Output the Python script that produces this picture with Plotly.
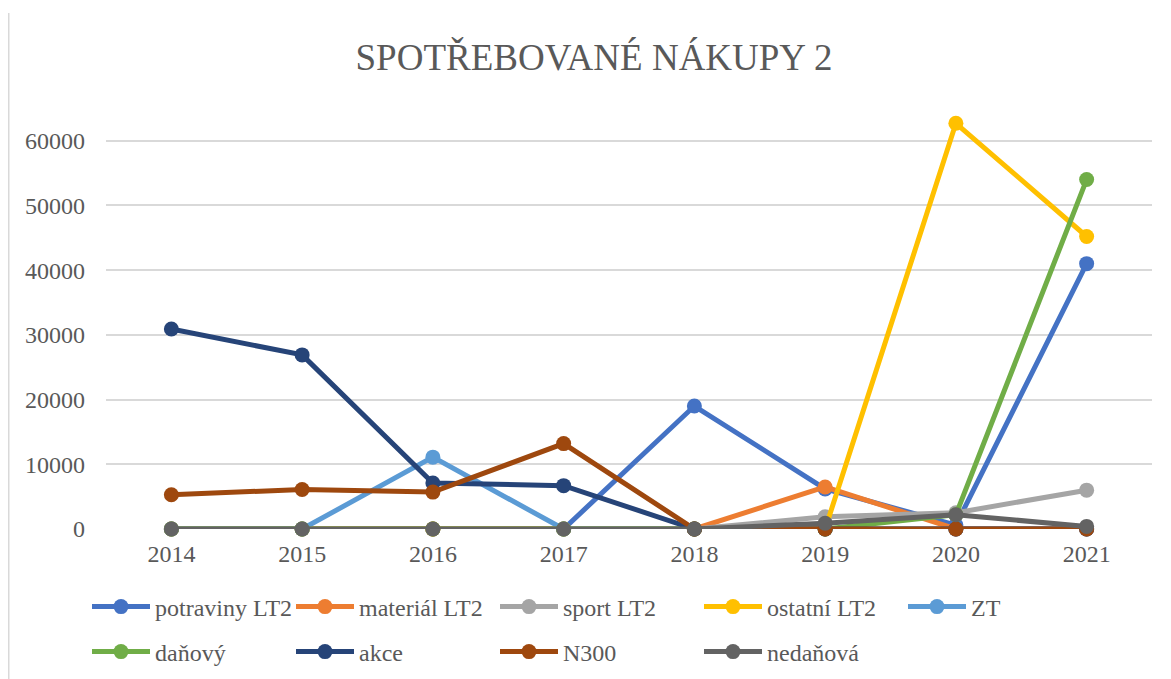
import plotly.graph_objects as go

years = ["2014", "2015", "2016", "2017", "2018", "2019", "2020", "2021"]

potraviny_lt2 = [0, 0, 0, 0, 19000, 6200, 600, 41000]
material_lt2 = [0, 0, 0, 0, 0, 6500, 0, 0]
sport_lt2 = [0, 0, 0, 0, 0, 1900, 2500, 6000]
ostatni_lt2 = [0, 0, 0, 0, 0, 0, 62700, 45200]
zt = [0, 0, 11100, 0, 0, 0, 0, 0]
danovy = [0, 0, 0, 0, 0, 0, 2200, 54000]
akce = [30900, 26900, 7100, 6700, 0, 0, 0, 0]
n300 = [5300, 6100, 5700, 13200, 0, 0, 0, 0]
nedanova = [0, 0, 0, 0, 0, 900, 2200, 400]

series = [
    ("potraviny LT2", potraviny_lt2, "#4472C4"),
    ("materiál LT2", material_lt2, "#ED7D31"),
    ("sport LT2", sport_lt2, "#A5A5A5"),
    ("ostatní LT2", ostatni_lt2, "#FFC000"),
    ("ZT", zt, "#5B9BD5"),
    ("daňový", danovy, "#70AD47"),
    ("akce", akce, "#264478"),
    ("N300", n300, "#9E480E"),
    ("nedaňová", nedanova, "#636363"),
]

y_ticks = [0, 10000, 20000, 30000, 40000, 50000, 60000]
y_ticktext = [str(v) for v in y_ticks]

FONT = "Liberation Serif, Times New Roman, serif"
TXT = "#595959"

# page body adds an 8px offset; figure coordinates = screen - 8
OFF = 8
W, H = 1171 - OFF, 679 - OFF
L, R, T, B = 106 - OFF, 19, 76 - OFF, 150
pw = W - L - R
ph = H - T - B
base = H - B  # y pixel (figure) of the axis bottom

fig = go.Figure()
for i, (name, vals, col) in enumerate(series):
    fig.add_trace(go.Scatter(
        x=years, y=vals, name=name, mode="lines+markers",
        line=dict(color=col, width=5),
        marker=dict(color=col, size=15),
        cliponaxis=False,
        legend="legend" if i < 5 else "legend2",
    ))

leg_common = dict(orientation="h", xanchor="left", yanchor="middle",
                  font=dict(family=FONT, size=24, color=TXT),
                  entrywidth=131, entrywidthmode="pixels",
                  itemwidth=58, bgcolor="rgba(0,0,0,0)")

leg_x = (87 - OFF - L) / pw

fig.update_layout(
    width=W, height=H,
    margin=dict(l=L, r=R, t=T, b=B, autoexpand=False),
    paper_bgcolor="white", plot_bgcolor="white",
    font=dict(family=FONT, size=24, color=TXT),
    title=dict(text="SPOTŘEBOVANÉ NÁKUPY 2", x=(594 - OFF) / W, xanchor="center",
               y=1 - (57 - OFF) / H, yanchor="middle",
               font=dict(family=FONT, size=37, color=TXT)),
    xaxis=dict(type="category", range=[-0.5, 7.5], showgrid=False,
               showline=False, zeroline=False, ticks="", automargin=False,
               ticklabelstandoff=8,
               tickfont=dict(family=FONT, size=24, color=TXT)),
    yaxis=dict(range=[0, 70000], tickvals=y_ticks, ticktext=y_ticktext,
               showgrid=True, automargin=False,
               gridcolor="#D9D9D9", gridwidth=1.5, zeroline=False,
               showline=False, ticks="", ticklabelstandoff=20,
               tickfont=dict(family=FONT, size=24, color=TXT)),
    legend=dict(x=leg_x, y=-((607 - OFF) - base) / ph, **leg_common),
    legend2=dict(x=leg_x, y=-((652 - OFF) - base) / ph, **leg_common),
    showlegend=True,
    shapes=[dict(type="line", xref="paper", yref="paper",
                 x0=(0.75 - L) / pw, x1=(0.75 - L) / pw,
                 y0=-(H - base) / ph, y1=(base - (13 - OFF)) / ph,
                 line=dict(color="#D9D9D9", width=1.5))],
)

fig.write_html("out.html")
